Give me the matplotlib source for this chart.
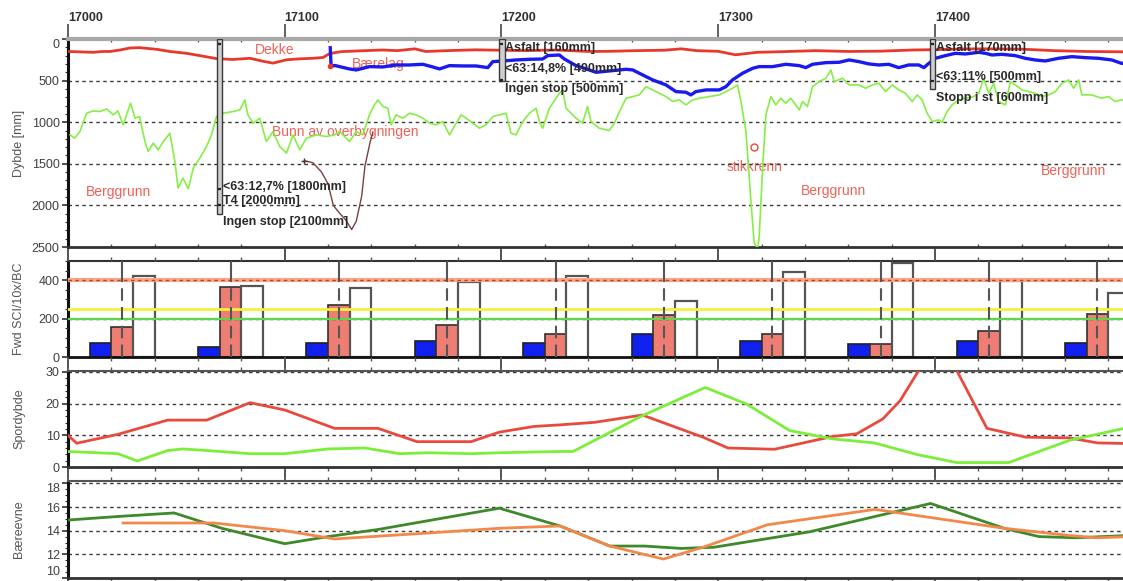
import matplotlib
matplotlib.use("Agg")
import matplotlib.pyplot as plt
from matplotlib.patches import Rectangle
from matplotlib.ticker import MultipleLocator, FuncFormatter

plt.rcParams['font.family'] = ['Liberation Sans', 'DejaVu Sans']

# ---------------- Chainage range (m) ----------------
X_MIN, X_MAX = 17000, 17490

# ---------------- Georadar layer interfaces (depth in mm) ----------------
dekke_x = [17000, 17006, 17011.7, 17016, 17019.4, 17024, 17028.6, 17033, 17036, 17041,
           17047, 17054.7, 17062, 17068.5, 17076, 17084, 17090, 17094.6, 17100.8, 17107,
           17113, 17117.7, 17120.7, 17126, 17135, 17145, 17152, 17160, 17165, 17175,
           17188, 17200, 17212, 17225, 17240, 17250, 17262, 17275, 17283, 17290,
           17300, 17308, 17318, 17330, 17345, 17360, 17375, 17390, 17400, 17412,
           17425, 17440, 17455, 17470, 17490]
dekke_y = [150, 155, 160, 150, 150, 132, 108, 104, 112, 124,
           150, 172, 205, 236, 246, 232, 268, 290, 250, 238,
           232, 222, 175, 152, 142, 132, 140, 118, 150, 140,
           130, 135, 140, 132, 150, 148, 140, 135, 118, 140,
           148, 190, 160, 152, 140, 150, 146, 132, 128, 120,
           118, 122, 140, 150, 155]

baerelag_x = [17121, 17121.4, 17123, 17125.3, 17129.9, 17133, 17139.1, 17145.3, 17151.4, 17157.6,
              17163.7, 17168.3, 17171.4, 17176, 17182.1, 17188.3, 17193.7, 17196, 17200.6, 17206.7,
              17212.9, 17219, 17221.3, 17226.7, 17229, 17234.4, 17240.5, 17243.6, 17249.7, 17257.5,
              17260.6, 17263.6, 17269.8, 17275.9, 17280.5, 17285.1, 17287.4, 17289.7, 17294.4, 17300.5,
              17303.6, 17306.6, 17311.2, 17315.9, 17318.9, 17325.1, 17331.2, 17337.4, 17340.4, 17343.5,
              17349.7, 17355.8, 17360.4, 17364.9, 17369.6, 17374.1, 17378.7, 17383.3, 17387.9, 17392.5,
              17394.9, 17397.2, 17400.2, 17404.8, 17409.4, 17414, 17420.2, 17423.3, 17426.3, 17430.9,
              17437.1, 17441.7, 17446.3, 17450.9, 17457, 17463.2, 17469.3, 17475.5, 17481.6, 17486, 17490]
baerelag_y = [105, 330, 318, 332, 360, 372, 332, 336, 312, 312,
              304, 336, 360, 320, 324, 324, 344, 272, 264, 252,
              244, 240, 200, 192, 240, 320, 372, 400, 384, 364,
              372, 412, 492, 552, 632, 640, 672, 632, 612, 612,
              572, 492, 412, 352, 332, 332, 304, 320, 344, 304,
              284, 280, 252, 272, 300, 312, 304, 344, 312, 312,
              344, 292, 232, 200, 172, 180, 160, 172, 192, 184,
              200, 232, 252, 264, 232, 212, 224, 232, 252, 292, 300]

bunn_x = [17001, 17003, 17005.5, 17008.6, 17011.7, 17014.7, 17017.8, 17020.9, 17023, 17025.5,
          17027, 17028.9, 17030.9, 17033, 17035.5, 17037, 17039.3, 17041.6, 17044, 17047,
          17049.3, 17050.8, 17053, 17055.5, 17057.8, 17060.8, 17063.9, 17066.2, 17068.5, 17071.6,
          17076.2, 17079.3, 17081.6, 17083, 17085.4, 17088.5, 17091.5, 17094.6, 17097.7, 17100.8,
          17103.8, 17106.9, 17110, 17114.6, 17119.2, 17123, 17125.3, 17129.9, 17133, 17136,
          17139.1, 17141.4, 17143, 17145.3, 17147.6, 17149.1, 17151.4, 17154.5, 17157.6, 17160.6,
          17163.7, 17166.8, 17169.9, 17172.9, 17176, 17179.1, 17181.4, 17183.7, 17186.8, 17189.8,
          17192.9, 17196, 17199, 17202.1, 17204.4, 17206.7, 17209.8, 17212.9, 17216, 17217.5,
          17219, 17222.1, 17226.7, 17228.2, 17229.8, 17234.4, 17237.4, 17239.7, 17241.3, 17245.1,
          17249.7, 17252.1, 17254.4, 17257.5, 17260.6, 17263.6, 17266.7, 17269.8, 17272.8, 17275.9,
          17279, 17282, 17285.1, 17288.2, 17291.3, 17295.9, 17300.5, 17303.6, 17306.6, 17308.9,
          17310.5, 17312.8, 17315.1, 17316.6, 17318.2, 17318.9, 17320.5, 17322, 17324.3, 17326.6,
          17328.9, 17331.2, 17333.5, 17335.8, 17337.4, 17338.9, 17341.2, 17343.5, 17346.6, 17349.7,
          17352, 17353.5, 17357.3, 17360.4, 17364.9, 17368, 17371, 17374.1, 17377.2, 17380.3,
          17383.3, 17386.4, 17389.5, 17391.8, 17394.1, 17396.4, 17398.7, 17401.8, 17403.3, 17405.6,
          17407.9, 17411, 17414, 17417.9, 17420.2, 17422.5, 17424.8, 17427.1, 17429.4, 17432.5,
          17434.8, 17437.1, 17440.2, 17443.2, 17446.3, 17449.4, 17452.4, 17455.5, 17458.6, 17461.7,
          17464, 17466.3, 17467.8, 17472.4, 17477, 17480.1, 17483.2, 17486, 17490]
bunn_y = [1152, 1192, 1112, 892, 864, 872, 840, 912, 864, 1032,
          912, 772, 952, 932, 1232, 1352, 1252, 1332, 1232, 1132,
          1472, 1792, 1672, 1800, 1552, 1432, 1292, 1152, 932, 892,
          872, 852, 732, 912, 1012, 952, 1232, 1112, 1292, 1372,
          1152, 1332, 1192, 1152, 1172, 1152, 1112, 1232, 1112, 1152,
          912, 792, 732, 812, 832, 1032, 912, 952, 892, 912,
          952, 1012, 1032, 992, 1152, 1012, 912, 952, 1012, 1072,
          1032, 932, 912, 892, 1132, 1152, 992, 892, 832, 992,
          1072, 832, 652, 612, 832, 952, 1012, 812, 992, 1072,
          1100, 1012, 872, 712, 692, 672, 572, 612, 652, 692,
          752, 732, 792, 732, 712, 692, 672, 632, 592, 552,
          752, 1112, 1952, 2450, 2520, 2380, 1552, 912, 692, 792,
          712, 772, 712, 792, 852, 752, 812, 572, 512, 472,
          372, 512, 472, 552, 552, 592, 552, 532, 632, 552,
          612, 652, 752, 672, 732, 892, 992, 972, 1000, 872,
          792, 732, 712, 692, 652, 472, 652, 532, 752, 792,
          512, 552, 612, 632, 652, 692, 672, 632, 532, 492,
          592, 492, 672, 672, 712, 692, 752, 732, 740]

# Sounding profile between the layers
sondering_x = [17109, 17113, 17117, 17120, 17122.4, 17125.5, 17128, 17130.9, 17133, 17135.5,
               17137, 17139.3, 17140.7]
sondering_y = [1463, 1487, 1600, 1742, 2000, 2100, 2170, 2290, 2190, 1890,
               1530, 1250, 1120]

# Point markers
baerelag_start_x, baerelag_start_y = [17121], [330]
stikkrenne_x, stikkrenne_y = [17316.6], [1295]

# Layer labels
layer_labels = ["Dekke", "Bærelag", "Bunn av overbygningen", "Berggrunn",
                "stikkrenn", "Berggrunn", "Berggrunn"]
layer_label_x = [17086, 17131, 17094, 17008.3, 17304, 17338, 17448.7]
layer_label_y = [132, 305, 1114, 1840, 1544, 1824, 1584]

# Boreholes / test pits
bore_x = [17068.6, 17198.8, 17397.6]
bore_depth = [2100, 500, 600]
bore_marks = [[60, 1800, 2000], [60, 490], [60, 500]]
bore_text = [["<63:12,7% [1800mm]", "T4 [2000mm]", "Ingen stop [2100mm]"],
             ["Asfalt [160mm]", "<63:14,8% [490mm]", "Ingen stop [500mm]"],
             ["Asfalt [170mm]", "<63:11% [500mm]", "Stopp i st [600mm]"]]
bore_text_y = [[1775, 1952, 2205], [112, 360, 605], [112, 452, 704]]

# ---------------- FWD (SCI / 10x / BC) ----------------
fwd_x = [17025, 17075, 17125, 17175, 17225, 17275, 17325, 17375, 17425, 17475]
fwd_bc = [73, 54, 73, 82, 73, 122, 85, 68, 82, 73]
fwd_sci = [155, 363, 273, 165, 122, 221, 120, 68, 134, 224]
fwd_10x = [421, 372, 358, 391, 424, 290, 442, 487, 395, 334]
fwd_limits = [400, 250, 200]
fwd_limit_colors = ['#F6A88C', '#F2F23A', '#5CD84A']

# ---------------- Spordybde (rut depth, mm) ----------------
spor_a_x = [17000, 17004, 17023, 17046, 17064, 17084, 17100, 17123, 17143, 17161,
            17186, 17199, 17215, 17227, 17243, 17265, 17293, 17304.5, 17326, 17352.5,
            17364, 17376, 17384, 17402, 17424, 17442, 17462, 17475, 17490]
spor_a_y = [10, 7.5, 10.3, 14.8, 14.8, 20.3, 18, 12.2, 12.2, 8,
            8, 11, 12.8, 13.3, 14.1, 16.4, 9.4, 6.0, 5.6, 9.6,
            10.5, 15.2, 21, 41, 12.2, 9.4, 9.2, 7.6, 7.4]
spor_b_x = [17000, 17023, 17032, 17046, 17053, 17064, 17084, 17100, 17120, 17137,
            17153, 17166, 17186, 17199, 17227, 17233, 17265, 17294, 17313, 17333,
            17352.5, 17372, 17392, 17410, 17434, 17462, 17490]
spor_b_y = [4.9, 4.2, 1.9, 5.2, 5.7, 5.2, 4.2, 4.2, 5.7, 6.0,
            4.2, 4.5, 4.2, 4.5, 4.9, 4.9, 16.2, 25.1, 19.9, 11.5,
            8.9, 7.6, 3.9, 1.4, 1.4, 8.4, 12.6]

# ---------------- Bæreevne (bearing capacity, t) ----------------
bae_a_x = [17000, 17023, 17049, 17071, 17100, 17120, 17143, 17199, 17227, 17250,
           17266, 17283, 17298, 17342, 17398, 17432, 17448, 17465, 17490]
bae_a_y = [14.9, 15.2, 15.5, 14.2, 12.9, 13.5, 14.1, 15.9, 14.4, 12.7,
           12.7, 12.5, 12.6, 13.9, 16.3, 14.2, 13.5, 13.4, 13.6]
bae_b_x = [17025.4, 17067.4, 17100, 17123, 17166, 17199, 17227, 17250, 17274.7, 17293,
           17322.7, 17372.4, 17432, 17461.7, 17475, 17490]
bae_b_y = [14.65, 14.65, 14.0, 13.3, 13.8, 14.2, 14.4, 12.7, 11.6, 12.6,
           14.5, 15.8, 14.2, 13.6, 13.4, 13.5]

# Axis ticks
dybde_ticks = [0, 500, 1000, 1500, 2000, 2500]
fwd_ticks = [0, 200, 400]
spor_ticks = [0, 10, 20, 30]
bae_ticks = [10, 12, 14, 16, 18]

# ---------------- Figure ----------------
W, H = 1123, 581
fig = plt.figure(figsize=(W / 100, H / 100), dpi=100)


def add_panel(top, bottom):
    return fig.add_axes([68 / W, (H - bottom) / H, 1062 / W, (bottom - top) / H])


ax1 = add_panel(39, 247)
ax2 = add_panel(261, 357)
ax3 = add_panel(371, 467)
ax4 = add_panel(481, 578)

TICK_COL = '#404040'
GRID_LS = (0, (2.5, 2.5))
RED_TXT = '#EF6258'


def style(ax, yticks, ymin, label):
    ax.set_xlim(X_MIN, X_MAX)
    ax.xaxis.set_major_locator(MultipleLocator(100))
    ax.xaxis.set_minor_locator(MultipleLocator(20))
    ax.set_yticks(yticks)
    ax.yaxis.set_minor_locator(MultipleLocator(ymin))
    ax.tick_params(axis='x', which='both', top=True, bottom=True, direction='out',
                   labelbottom=False, color='#555555')
    ax.tick_params(axis='x', which='major', length=8, width=1.3)
    ax.tick_params(axis='x', which='minor', length=3, width=1)
    ax.tick_params(axis='y', which='major', length=4, width=1.2, labelsize=9,
                   labelcolor=TICK_COL, color='#333333', pad=2)
    ax.tick_params(axis='y', which='minor', length=2, width=0.8, color='#333333')
    ax.spines['right'].set_visible(False)
    ax.spines['left'].set_linewidth(2.2)
    ax.spines['left'].set_color('#111111')
    ax.spines['bottom'].set_linewidth(2)
    ax.spines['bottom'].set_color('#333333')
    ax.spines['top'].set_linewidth(1.5)
    ax.spines['top'].set_color('#555555')
    ax.yaxis.grid(True, which='major', linestyle=GRID_LS, color='#3a3a3a', linewidth=1)
    ax.set_ylabel(label, fontsize=9, color='#555555')
    ax.yaxis.set_label_coords(-0.0405, 0.5)


# ---- Panel 1: layer depths ----
style(ax1, dybde_ticks, 100, 'Dybde [mm]')
ax1.set_ylim(2500, 0)
ax1.tick_params(axis='x', which='major', labeltop=True, length=11, pad=0,
                labelsize=9, labelcolor='#303030')
ax1.tick_params(axis='x', which='minor', top=True, direction='in', length=2)
ax1.spines['top'].set_linewidth(3)
ax1.spines['top'].set_color('#A8A8A8')
ax1.xaxis.set_major_formatter(FuncFormatter(lambda v, p: f"{v:.0f}"))
for t in ax1.xaxis.get_major_ticks():
    t.label2.set_horizontalalignment('left')
    t.label2.set_fontweight('bold')
ax1.yaxis.get_major_ticks()[0].label1.set_verticalalignment('top')

for txt, x, y in zip(layer_labels, layer_label_x, layer_label_y):
    ax1.text(x, y, txt, fontsize=10, color=RED_TXT, va='center', ha='left', zorder=1)

ax1.plot(bunn_x, bunn_y, color='#86EE45', lw=1.2, zorder=3)
ax1.plot(dekke_x, dekke_y, color='#E8382C', lw=2, zorder=4)
ax1.plot(baerelag_x, baerelag_y, color='#1A1AEE', lw=2.4, zorder=4)
ax1.plot(baerelag_start_x, baerelag_start_y, 'o', color='#E8382C', ms=3, zorder=5)
ax1.plot(sondering_x, sondering_y, color='#7A4040', lw=1, zorder=3)
ax1.plot(sondering_x[:1], sondering_y[:1], '+', color='#5A3030', ms=4, zorder=3)
ax1.plot(stikkrenne_x, stikkrenne_y, 'o', mfc='none', mec='#E8483C', ms=5, mew=1, zorder=5)

for bx, bd, marks, texts, ty in zip(bore_x, bore_depth, bore_marks, bore_text, bore_text_y):
    ax1.add_patch(Rectangle((bx, 0), 2.6, bd, facecolor='#CFCFCF', edgecolor='#3a3a3a',
                            lw=1, zorder=6))
    ax1.hlines(marks, bx + 0.5, bx + 2.1, color='#222222', lw=1.6, zorder=7)
    for t, yy in zip(texts, ty):
        ax1.text(bx + 2.9, yy, t, fontsize=9, fontweight='bold', color='#2a2a2a',
                 va='center', ha='left', zorder=8)

# ---- Panel 2: FWD bars ----
style(ax2, fwd_ticks, 50, 'Fwd SCI/10x/BC')
ax2.set_ylim(0, 500)
ax2.set_axisbelow(False)
ax2.spines['bottom'].set_color('#111111')
ax2.spines['top'].set_color('#333333')
xb = [x - 10 for x in fwd_x]
xw = [x + 10 for x in fwd_x]
ax2.bar(xb, fwd_bc, width=10, color='#1020EE', edgecolor='#202020', lw=1.2, zorder=2)
ax2.bar(fwd_x, fwd_sci, width=10, color='#EE7E74', edgecolor='#303030', lw=1.2, zorder=2)
ax2.bar(xw, fwd_10x, width=10, facecolor='none', edgecolor='#555555', lw=1.6, zorder=2)
lw_lim = [3, 2, 1.6]
for val, col, lw in zip(fwd_limits, fwd_limit_colors, lw_lim):
    ax2.axhline(val, color=col, lw=lw, zorder=3)
ax2.axhline(fwd_limits[0], color='#C8401A', lw=1, ls=GRID_LS, zorder=3.2)
ax2.vlines(fwd_x, 400, 500, color='#555555', lw=1.5, zorder=4)
ax2.vlines(fwd_x, 0, 400, color='#555555', lw=1.5, linestyles=(0, (6, 3)), zorder=4)

# ---- Panel 3: rut depth ----
style(ax3, spor_ticks, 2, 'Spordybde')
ax3.set_ylim(0, 30.3)
ax3.plot(spor_a_x, spor_a_y, color='#E84B3E', lw=2, zorder=3)
ax3.plot(spor_b_x, spor_b_y, color='#7CEE3A', lw=2, zorder=3)

# ---- Panel 4: bearing capacity ----
style(ax4, bae_ticks, 0.5, 'Bæreevne')
ax4.set_ylim(10, 18.2)
bae_tick_objs = ax4.yaxis.get_major_ticks()
bae_tick_objs[-1].label1.set_verticalalignment('top')
bae_tick_objs[0].label1.set_verticalalignment('bottom')
ax4.plot(bae_a_x, bae_a_y, color='#3E8A2A', lw=2, zorder=3)
ax4.plot(bae_b_x, bae_b_y, color='#F2884A', lw=2, zorder=3)

fig.savefig('out.png', dpi=100, facecolor='white')
